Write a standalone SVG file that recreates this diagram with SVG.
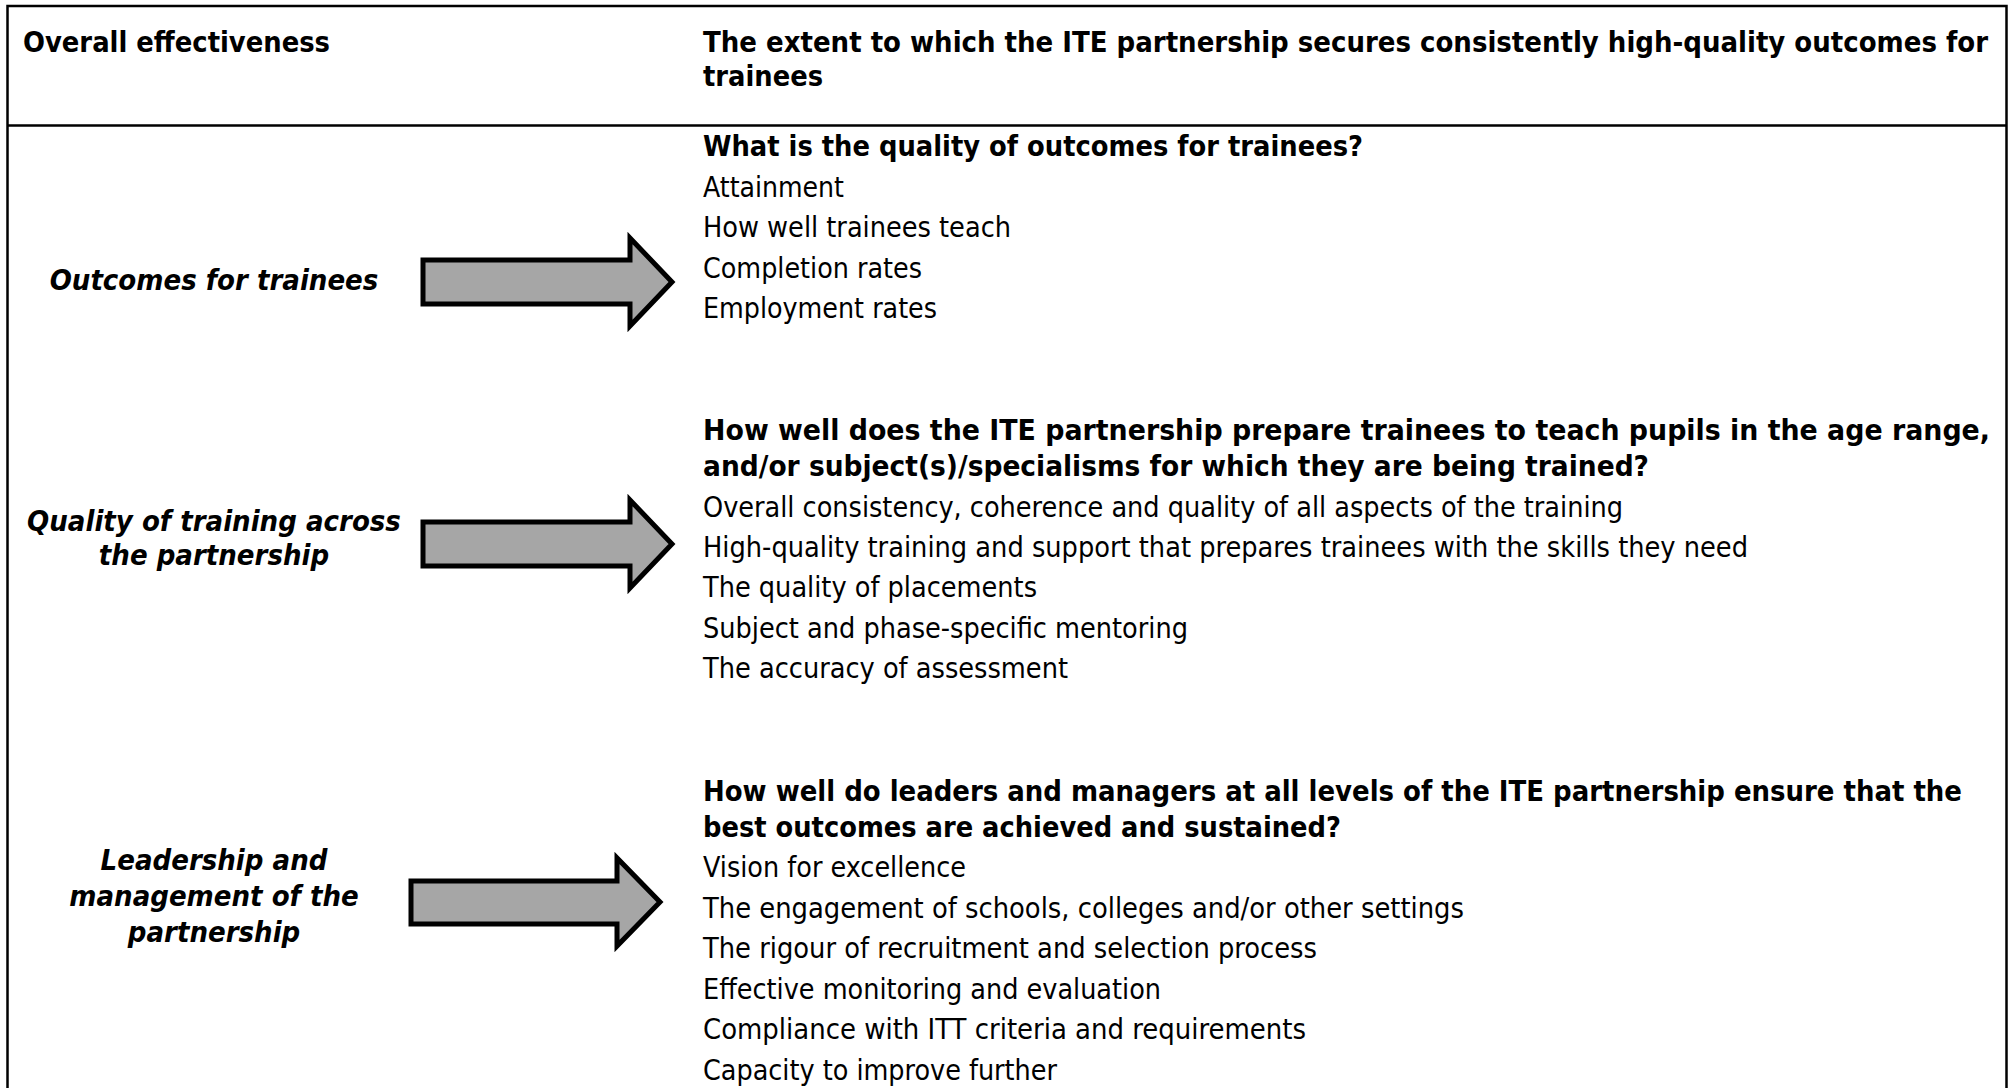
<svg xmlns="http://www.w3.org/2000/svg" width="2011" height="1088" viewBox="0 0 2011 1088">
<style>
text{font-family:"DejaVu Sans Condensed","DejaVu Sans",sans-serif;font-stretch:condensed;fill:#000}
.b{font-weight:bold;font-size:28.5px}
.r{font-size:28px}
.lab{font-weight:bold;font-style:italic;font-size:29px;text-anchor:middle}
.frame{fill:none;stroke:#000;stroke-width:2.5}
.arrow{fill:#a6a6a6;stroke:#000;stroke-width:5;stroke-linejoin:miter;stroke-miterlimit:10}
</style>
<rect width="2011" height="1088" fill="#fff"/>
<g id="table">
<path class="frame" d="M7.5,1100 V6 H2006.5 V1100 M7.5,125.5 H2006.5"/>
</g>
<g id="header">
<text class="b" x="23" y="52" textLength="307" lengthAdjust="spacingAndGlyphs">Overall effectiveness</text>
<text class="b" x="703" y="52" textLength="1285" lengthAdjust="spacingAndGlyphs">The extent to which the ITE partnership secures consistently high-quality outcomes for</text>
<text class="b" x="703" y="86" textLength="120" lengthAdjust="spacingAndGlyphs">trainees</text>
</g>
<g id="label-outcomes"><text class="lab" x="214" y="290">Outcomes for trainees</text></g>
<g id="label-training"><text class="lab" x="214" y="531">Quality of training across</text><text class="lab" x="214" y="565">the partnership</text></g>
<g id="label-leadership"><text class="lab" x="214" y="870">Leadership and</text><text class="lab" x="214" y="906">management of the</text><text class="lab" x="214" y="942">partnership</text></g>
<g id="connectors">
<path class="arrow" d="M423,260 H630 V238 L672,282 L630,326 V304 H423 Z"/>
<path class="arrow" d="M423,522 H630 V500 L672,544 L630,588 V566 H423 Z"/>
<path class="arrow" d="M411,881 H617 V858 L660,902 L617,946 V924 H411 Z"/>
</g>
<g id="block-outcomes">
<text class="b" x="703" y="156" textLength="660" lengthAdjust="spacingAndGlyphs">What is the quality of outcomes for trainees?</text>
<text class="r" x="703" y="197" textLength="141" lengthAdjust="spacingAndGlyphs">Attainment</text>
<text class="r" x="703" y="237" textLength="308" lengthAdjust="spacingAndGlyphs">How well trainees teach</text>
<text class="r" x="703" y="278" textLength="219" lengthAdjust="spacingAndGlyphs">Completion rates</text>
<text class="r" x="703" y="318" textLength="234" lengthAdjust="spacingAndGlyphs">Employment rates</text>
</g>
<g id="block-training">
<text class="b" x="703" y="440" textLength="1287" lengthAdjust="spacingAndGlyphs">How well does the ITE partnership prepare trainees to teach pupils in the age range,</text>
<text class="b" x="703" y="476" textLength="946" lengthAdjust="spacingAndGlyphs">and/or subject(s)/specialisms for which they are being trained?</text>
<text class="r" x="703" y="517" textLength="920" lengthAdjust="spacingAndGlyphs">Overall consistency, coherence and quality of all aspects of the training</text>
<text class="r" x="703" y="557" textLength="1045" lengthAdjust="spacingAndGlyphs">High-quality training and support that prepares trainees with the skills they need</text>
<text class="r" x="703" y="597" textLength="334" lengthAdjust="spacingAndGlyphs">The quality of placements</text>
<text class="r" x="703" y="638" textLength="485" lengthAdjust="spacingAndGlyphs">Subject and phase-specific mentoring</text>
<text class="r" x="703" y="678" textLength="365" lengthAdjust="spacingAndGlyphs">The accuracy of assessment</text>
</g>
<g id="block-leadership">
<text class="b" x="703" y="801" textLength="1259" lengthAdjust="spacingAndGlyphs">How well do leaders and managers at all levels of the ITE partnership ensure that the</text>
<text class="b" x="703" y="837" textLength="638" lengthAdjust="spacingAndGlyphs">best outcomes are achieved and sustained?</text>
<text class="r" x="703" y="877" textLength="263" lengthAdjust="spacingAndGlyphs">Vision for excellence</text>
<text class="r" x="703" y="918" textLength="761" lengthAdjust="spacingAndGlyphs">The engagement of schools, colleges and/or other settings</text>
<text class="r" x="703" y="958" textLength="614" lengthAdjust="spacingAndGlyphs">The rigour of recruitment and selection process</text>
<text class="r" x="703" y="999" textLength="458" lengthAdjust="spacingAndGlyphs">Effective monitoring and evaluation</text>
<text class="r" x="703" y="1039" textLength="603" lengthAdjust="spacingAndGlyphs">Compliance with ITT criteria and requirements</text>
<text class="r" x="703" y="1080" textLength="354" lengthAdjust="spacingAndGlyphs">Capacity to improve further</text>
</g>
</svg>
